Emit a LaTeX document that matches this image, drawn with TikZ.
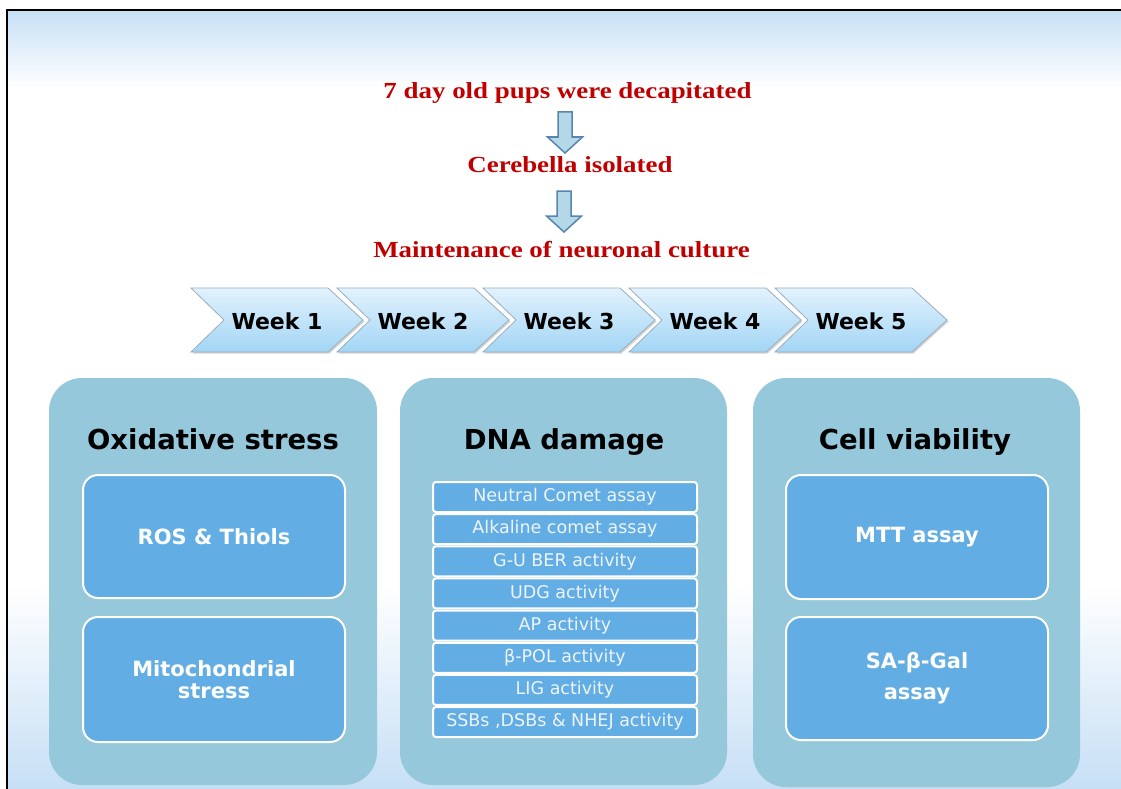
\documentclass[tikz,border=0pt]{standalone}
\usepackage{fontspec}
\usepackage{graphicx}
\usetikzlibrary{shadows}
\newfontfamily\vfont{DejaVu Sans}
\newfontfamily\rfont{Liberation Serif}
\newcommand\rstretch[1]{\scalebox{1.17}[1]{#1}}
\definecolor{redtxt}{HTML}{C00000}
\definecolor{bgblue}{HTML}{C6DFF5}
\definecolor{panelc}{HTML}{96C8DC}
\definecolor{boxc}{HTML}{62ADE3}
\definecolor{arrfill}{HTML}{B4D8E7}
\definecolor{arrdraw}{HTML}{5685B0}
\definecolor{chevtop}{HTML}{E2F2FD}
\definecolor{chevbot}{HTML}{A2D5F5}
\definecolor{chevdraw}{HTML}{9AAEBE}
\definecolor{smalltxt}{HTML}{EEF4FB}
\begin{document}
\begin{tikzpicture}[x=1pt,y=-1pt,
  redt/.style={text=redtxt,font=\rfont\bfseries\fontsize{23}{27}\selectfont,inner sep=0},
  head/.style={font=\vfont\bfseries\fontsize{27.5}{32}\selectfont,inner sep=0},
  weektxt/.style={font=\vfont\bfseries\fontsize{22}{25}\selectfont,inner sep=0},
  panel/.style={fill=panelc,rounded corners=33pt,inner sep=0},
  bigbox/.style={fill=boxc,draw=white,line width=2pt,rounded corners=15pt,inner sep=0,
    minimum width=262pt,text=white,align=center},
  bigfont/.style={font=\vfont\bfseries\fontsize{21}{22}\selectfont},
  smallbox/.style={fill=boxc,draw=white,line width=2pt,rounded corners=3pt,inner sep=0,
    minimum width=264pt,minimum height=30pt,text=smalltxt,
    font=\vfont\fontsize{17.5}{20}\selectfont},
  chev/.style={top color=chevtop,bottom color=chevbot,draw=chevdraw,line width=0.8pt,
    drop shadow={shadow xshift=1.5pt,shadow yshift=-1.5pt,opacity=0.35}},
  barrow/.style={fill=arrfill,draw=arrdraw,line width=1.5pt,line join=miter},
  blockarrow/.pic={\draw[barrow] (-7,0) -- (7,0) -- (7,25) -- (17.5,25) -- (0,41)
     -- (-17.5,25) -- (-7,25) -- cycle;}
]
\useasboundingbox (0,0) rectangle (1121,789);
\fill[white] (0,0) rectangle (1121,789);
\fill[top color=bgblue,bottom color=white] (7,10) rectangle (1121,88);
\fill[top color=white,bottom color=bgblue] (7,585) rectangle (1121,789);
\draw[line width=2.5pt] (7,789) -- (7,10) -- (1121,10);

% red steps
\node[redt,anchor=base] (t1) at (567.5,99) {\rstretch{7 day old pups were decapitated}};
\node[redt,anchor=base] (t2) at (570,172) {\rstretch{Cerebella isolated}};
\node[redt,anchor=base] (t3) at (561.5,257) {\rstretch{Maintenance of neuronal culture}};
\pic at (565,112) {blockarrow};
\pic at (564,191) {blockarrow};

% week chevrons
\foreach \i/\x in {1/191,2/337,3/483,4/629,5/775}{
  \path[chev] (\x,288) -- ++(137,0) -- ++(35,32) -- ++(-35,32) -- ++(-137,0) -- ++(33,-32) -- cycle;
  \node[weektxt] (w\i) at (\x+86,321) {Week \i};
}

% panels
\node[panel,minimum width=328pt,minimum height=407pt] (p1) at (213,581.5) {};
\node[panel,minimum width=327pt,minimum height=407pt] (p2) at (563.5,581.5) {};
\node[panel,minimum width=327pt,minimum height=409pt] (p3) at (916.5,582.5) {};

\node[head,anchor=base] (h1) at (213,449) {Oxidative stress};
\node[head,anchor=base] (h2) at (564,449) {DNA damage};
\node[head,anchor=base] (h3) at (915,449) {Cell viability};

% oxidative stress boxes
\node[bigbox,bigfont,minimum height=123pt] (ros) at (214,536.5) {ROS \& Thiols};
\node[bigbox,bigfont,minimum height=125pt] (mito) at (214,679.5) {Mitochondrial\\stress};

% cell viability boxes
\node[bigbox,bigfont,minimum height=124pt] (mtt) at (917,537) {MTT assay};
\node[bigbox,minimum height=123pt,font=\vfont\bfseries\fontsize{21}{31}\selectfont] (sa) at (917,678.5) {SA-β-Gal\\assay};

% DNA damage list
\foreach \t [count=\k from 0] in {Neutral Comet assay,Alkaline comet assay,G-U BER activity,UDG activity,AP activity,β-POL activity,LIG activity,{SSBs ,DSBs \& NHEJ activity}}{
  \node[smallbox] (d\k) at (565,497+32.15*\k) {\t};
}
\end{tikzpicture}
\end{document}
